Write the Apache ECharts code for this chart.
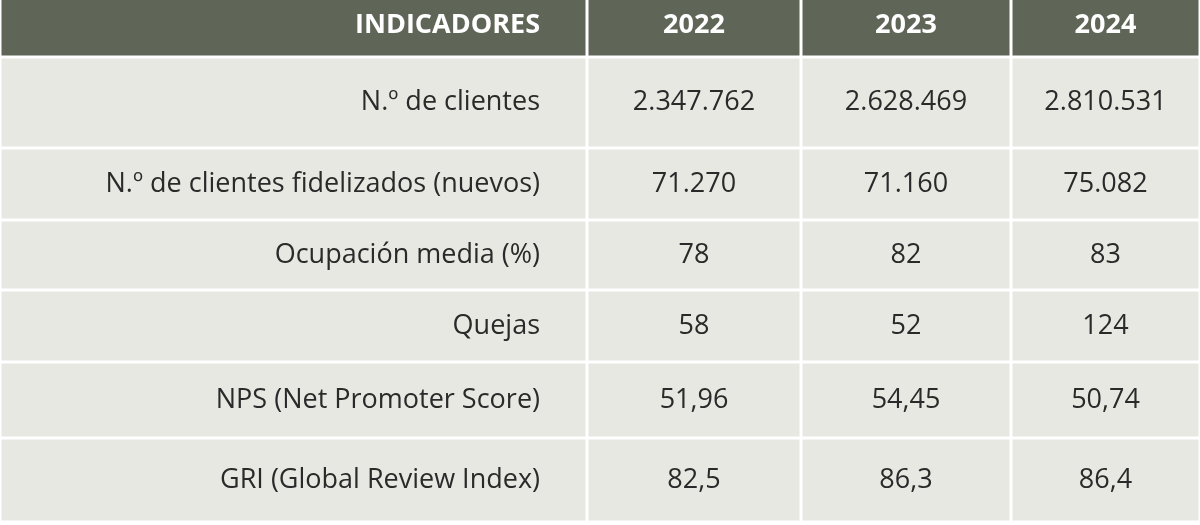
<!DOCTYPE html>
<html>
<head>
<meta charset="utf-8">
<script src="https://cdn.jsdelivr.net/npm/echarts@6/dist/echarts.min.js"></script>
<style>html,body{margin:0;padding:0;background:#fff}#main{width:1200px;height:525px}</style>
</head>
<body>
<div id="main"></div>
<script>
// datos de la tabla
const headers = ['INDICADORES', '2022', '2023', '2024'];
const indicators = [
  'N.º de clientes',
  'N.º de clientes fidelizados (nuevos)',
  'Ocupación media (%)',
  'Quejas',
  'NPS (Net Promoter Score)',
  'GRI (Global Review Index)'
];
const values2022 = ['2.347.762', '71.270', '78', '58', '51,96', '82,5'];
const values2023 = ['2.628.469', '71.160', '82', '52', '54,45', '86,3'];
const values2024 = ['2.810.531', '75.082', '83', '124', '50,74', '86,4'];

// bordes de columnas y filas (en unidades del eje)
const colEdges = [0, 587, 801, 1011, 1200];
const rowEdges = [0, 57, 148, 220, 290, 362, 438, 522];

const cells = [];
headers.forEach((h, c) => cells.push([c, 0, h]));
indicators.forEach((name, r) => {
  cells.push([0, r + 1, name]);
  cells.push([1, r + 1, values2022[r]]);
  cells.push([2, r + 1, values2023[r]]);
  cells.push([3, r + 1, values2024[r]]);
});

const myChart = echarts.init(document.getElementById('main'));
const option = {
  animation: false,
  grid: { left: 0, right: 0, top: 0, bottom: 0 },
  xAxis: { type: 'value', min: 0, max: 1200, show: false },
  yAxis: { type: 'value', min: 0, max: 525, inverse: true, show: false },
  series: [{
    type: 'custom',
    data: cells,
    renderItem: function (params, api) {
      const c = api.value(0), r = api.value(1);
      const text = cells[params.dataIndex][2];
      const p0 = api.coord([colEdges[c], rowEdges[r]]);
      const p1 = api.coord([colEdges[c + 1], rowEdges[r + 1]]);
      const header = r === 0;
      const top = header ? p0[1] : p0[1] + 1.5;
      const tx = c === 0 ? p0[0] + 540 : (p0[0] + p1[0]) / 2;
      return {
        type: 'group',
        children: [{
          type: 'rect',
          shape: { x: p0[0] + 1.5, y: top, width: p1[0] - p0[0] - 3, height: p1[1] - 1.5 - top },
          style: { fill: header ? '#5f6657' : '#e8e8e3' }
        }, {
          type: 'text',
          style: {
            text: text,
            x: tx,
            y: (p0[1] + p1[1]) / 2 - (header ? 3 : 0),
            align: c === 0 ? 'right' : 'center',
            verticalAlign: 'middle',
            fill: header ? '#ffffff' : '#2a2a2a',
            font: (header ? 'bold 27px' : '27px') + ' "Open Sans", "Noto Sans", sans-serif'
          }
        }]
      };
    }
  }]
};
myChart.setOption(option);
</script>
</body>
</html>
